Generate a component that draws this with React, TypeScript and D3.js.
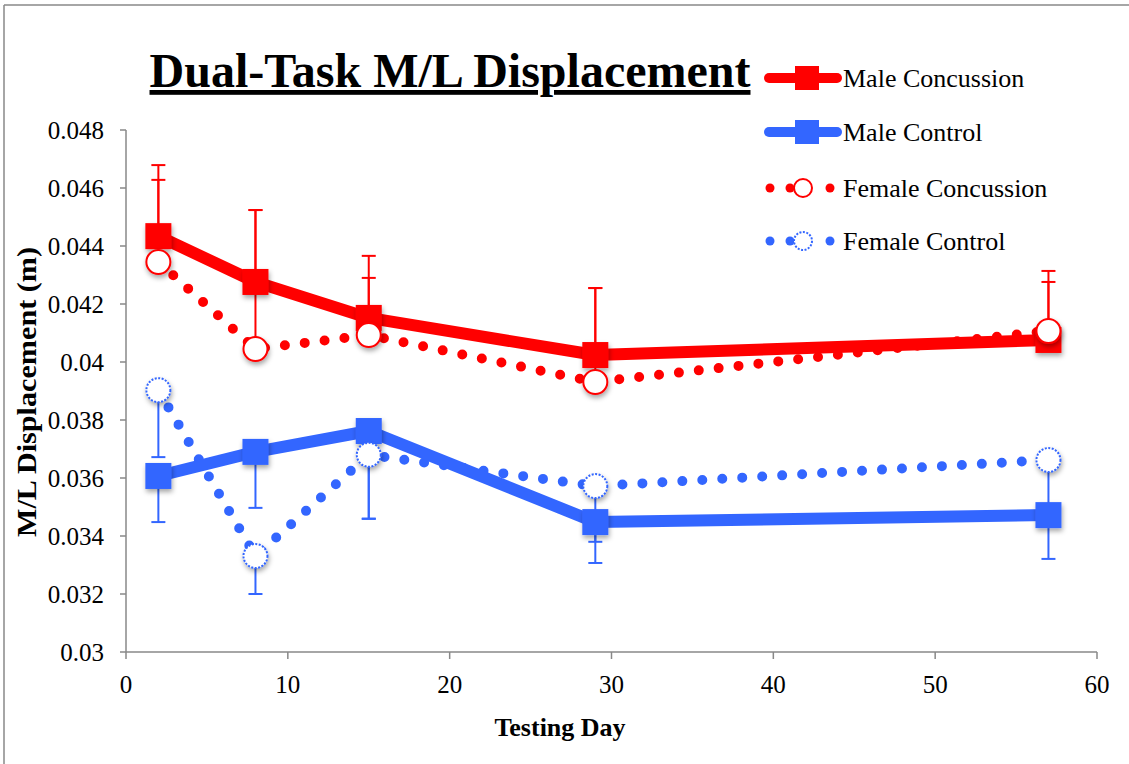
import React from "react";
import * as d3 from "d3";

const days = [2, 8, 15, 29, 57];
const maleConcussion = [0.04434, 0.04276, 0.04152, 0.04024, 0.04076];
const maleConcussionErr = [0.00245, 0.00248, 0.00214, 0.00231, 0.00238];
const femaleConcussion = [0.04345, 0.04045, 0.04093, 0.03931, 0.04107];
const femaleConcussionErr = [0.00283, 0.00479, 0.00197, 0.00324, 0.00169];
const maleControl = [0.03607, 0.0369, 0.03762, 0.03448, 0.03472];
const maleControlErr = [0.00159, 0.00193, 0.00303, 0.00141, 0.00151];
const femaleControl = [0.03903, 0.03331, 0.0368, 0.03572, 0.03662];
const femaleControlErr = [0.00231, 0.00131, 0.0022, 0.00192, 0.0018];

const xTicks = [0, 10, 20, 30, 40, 50, 60];
const yTicks = [0.03, 0.032, 0.034, 0.036, 0.038, 0.04, 0.042, 0.044, 0.046, 0.048];
const legendLabels = ["Male Concussion", "Male Control", "Female Concussion", "Female Control"];

const RED = "#FF0000";
const BLUE = "#3366FF";
const FONT = "'Liberation Serif', 'Times New Roman', serif";

export default function App() {
  const W = 1129, H = 764;
  const x = d3.scaleLinear().domain([0, 60]).range([126, 1097]);
  const y = d3.scaleLinear().domain([0.03, 0.048]).range([652, 130]);
  const line = d3
    .line<number>()
    .x((_, i) => x(days[i]))
    .y((d) => y(d));

  const errBars = (vals: number[], errs: number[], dir: number, color: string, key: string) =>
    vals.map((v, i) => {
      const cx = x(days[i]);
      const y0 = y(v);
      const y1 = y(v + dir * errs[i]);
      return (
        <g key={key + i} stroke={color} strokeWidth={2}>
          <line x1={cx} x2={cx} y1={y0} y2={y1} />
          <line x1={cx - 7} x2={cx + 7} y1={y1} y2={y1} />
        </g>
      );
    });

  const squares = (vals: number[], color: string, key: string) =>
    vals.map((v, i) => (
      <rect
        key={key + i}
        x={x(days[i]) - 13}
        y={y(v) - 13}
        width={26}
        height={26}
        fill={color}
        filter="url(#shadow)"
      />
    ));

  const circles = (vals: number[], color: string, dotted: boolean, key: string) =>
    vals.map((v, i) => (
      <circle
        key={key + i}
        cx={x(days[i])}
        cy={y(v)}
        r={12}
        fill="#fff"
        stroke={color}
        strokeWidth={2}
        strokeDasharray={dotted ? "2 1.5" : undefined}
        filter="url(#shadow)"
      />
    ));

  const legendRows = [78, 132, 188, 241];

  return (
    <svg
      width={W}
      height={H}
      style={{ position: "absolute", left: 0, top: 0, display: "block", background: "#fff" }}
      fontFamily={FONT}
    >
      <defs>
        <filter id="shadow" x="-50%" y="-50%" width="200%" height="200%">
          <feDropShadow dx="1" dy="3" stdDeviation="2.5" floodColor="#000" floodOpacity="0.35" />
        </filter>
      </defs>
      <rect x={0} y={0} width={W} height={H} fill="#fff" />
      {/* outer border */}
      <line x1={4} x2={W + 5} y1={5} y2={5} stroke="#888" strokeWidth={1.5} />
      <line x1={4} x2={4} y1={5} y2={H + 5} stroke="#888" strokeWidth={1.5} />

      {/* axes */}
      <g stroke="#888" strokeWidth={1.5}>
        <line x1={x(0)} x2={x(0)} y1={y(0.048)} y2={y(0.03)} />
        <line x1={x(0)} x2={x(60)} y1={y(0.03)} y2={y(0.03)} />
        {yTicks.map((t) => (
          <line key={"yt" + t} x1={x(0) - 6} x2={x(0)} y1={y(t)} y2={y(t)} />
        ))}
        {xTicks.map((t) => (
          <line key={"xt" + t} x1={x(t)} x2={x(t)} y1={y(0.03)} y2={y(0.03) + 7} />
        ))}
      </g>
      <g fontSize={25} fill="#000">
        {yTicks.map((t) => (
          <text key={"yl" + t} x={x(0) - 22} y={y(t)} dy="0.35em" textAnchor="end">
            {d3.format("")(+t.toFixed(3))}
          </text>
        ))}
        {xTicks.map((t) => (
          <text key={"xl" + t} x={x(t)} y={693} textAnchor="middle">
            {t}
          </text>
        ))}
      </g>
      <text x={560} y={736} textAnchor="middle" fontWeight="bold" fontSize={26}>
        Testing Day
      </text>
      <text
        transform={`translate(36,392) rotate(-90)`}
        textAnchor="middle"
        fontWeight="bold"
        fontSize={27}
        textLength={290}
        lengthAdjust="spacingAndGlyphs"
      >
        M/L Displacement (m)
      </text>

      {/* title */}
      <text x={450} y={87} textAnchor="middle" fontWeight="bold" fontSize={48} textDecoration="underline">
        Dual-Task M/L Displacement
      </text>

      {/* error bars */}
      {errBars(femaleConcussion, femaleConcussionErr, 1, RED, "fce")}
      {errBars(maleConcussion, maleConcussionErr, 1, RED, "mce")}
      {errBars(femaleControl, femaleControlErr, -1, BLUE, "fte")}
      {errBars(maleControl, maleControlErr, -1, BLUE, "mte")}

      {/* dotted female lines */}
      <path
        d={line(femaleConcussion) || ""}
        fill="none"
        stroke={RED}
        strokeWidth={10}
        strokeLinecap="round"
        strokeDasharray="0 20"
      />
      <path
        d={line(femaleControl) || ""}
        fill="none"
        stroke={BLUE}
        strokeWidth={10}
        strokeLinecap="round"
        strokeDasharray="0 20"
      />
      {/* solid male lines */}
      <path d={line(maleConcussion) || ""} fill="none" stroke={RED} strokeWidth={12} strokeLinejoin="round" />
      <path d={line(maleControl) || ""} fill="none" stroke={BLUE} strokeWidth={12} strokeLinejoin="round" />

      {squares(maleConcussion, RED, "mcs")}
      {squares(maleControl, BLUE, "mts")}
      {circles(femaleConcussion, RED, false, "fcc")}
      {circles(femaleControl, BLUE, true, "ftc")}

      {/* legend */}
      {legendLabels.map((lab, i) => {
        const ly = legendRows[i];
        const color = i % 2 === 0 ? RED : BLUE;
        const isMale = i < 2;
        return (
          <g key={"lg" + i}>
            {isMale ? (
              <>
                <line x1={769} x2={837} y1={ly} y2={ly} stroke={color} strokeWidth={10} strokeLinecap="round" />
                <rect x={795} y={ly - 12} width={24} height={24} fill={color} />
              </>
            ) : (
              <>
                {[770, 790, 830].map((cx) => (
                  <circle key={cx} cx={cx} cy={ly} r={4.5} fill={color} />
                ))}
                <circle
                  cx={803}
                  cy={ly}
                  r={9}
                  fill="#fff"
                  stroke={color}
                  strokeWidth={2}
                  strokeDasharray={i === 3 ? "2 1.5" : undefined}
                />
              </>
            )}
            <text x={843} y={ly} dy="0.35em" fontSize={26}>
              {lab}
            </text>
          </g>
        );
      })}
    </svg>
  );
}
